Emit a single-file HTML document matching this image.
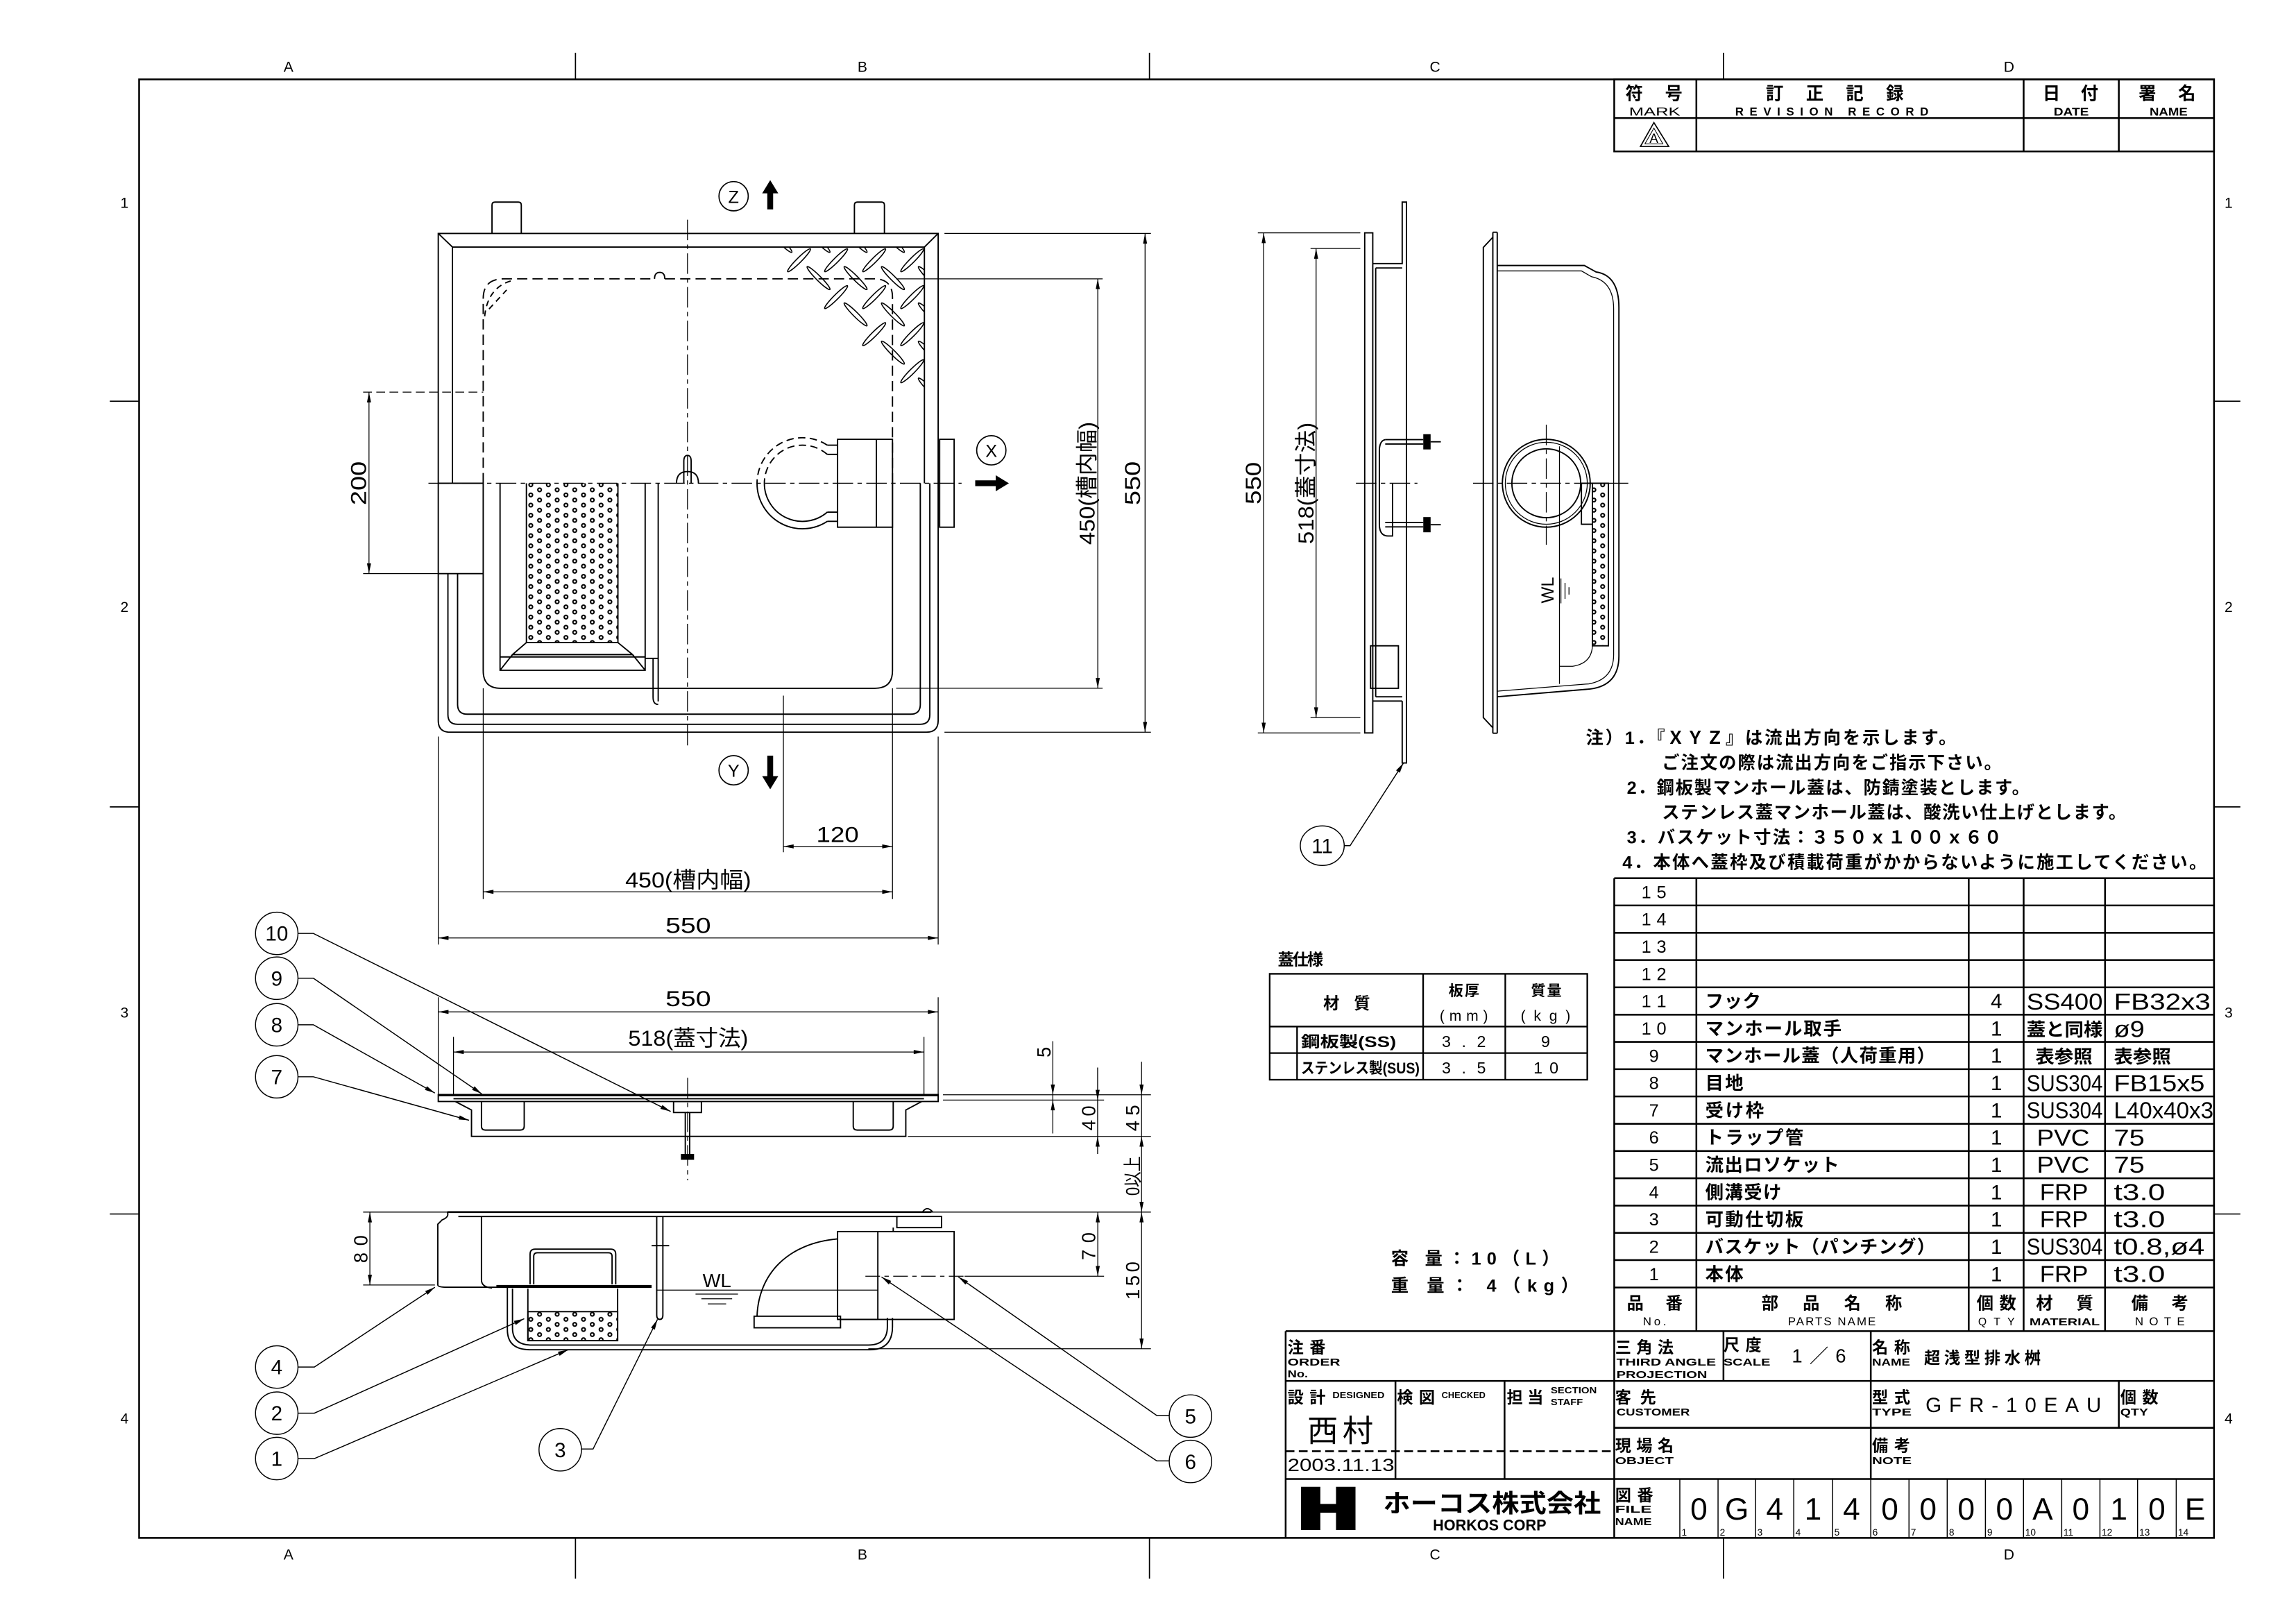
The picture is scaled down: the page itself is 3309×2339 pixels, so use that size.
<!DOCTYPE html>
<html><head><meta charset="utf-8">
<style>
html,body{margin:0;padding:0;background:#fff;}
svg{display:block;}
text{font-family:"Liberation Sans","Noto Sans CJK JP",sans-serif;fill:#000;stroke:none;}
.b{font-weight:bold;}
</style></head><body>
<svg xmlns="http://www.w3.org/2000/svg" width="3309" height="2339" viewBox="0 0 1568 1108.3" preserveAspectRatio="none">
<defs>
<pattern id="perf" patternUnits="userSpaceOnUse" x="359.5" y="329.3" width="12" height="6.95">
<circle cx="3" cy="1.74" r="1.2" fill="none" stroke="#000" stroke-width="1"/>
<circle cx="9" cy="5.21" r="1.2" fill="none" stroke="#000" stroke-width="1"/>
<circle cx="9" cy="-1.74" r="1.2" fill="none" stroke="#000" stroke-width="1"/>
</pattern>
<clipPath id="cp"><rect x="309" y="168.7" width="322.6" height="161.3"/></clipPath>
</defs>
<rect width="1568" height="1108.3" fill="#fff"/>

<!-- ===== FRAME ===== -->
<g fill="none" stroke="#000">
<rect x="95" y="54.2" width="1417" height="996" stroke-width="1.2"/>
<path stroke-width="0.8" d="M393,36V54 M785,36V54 M1177,36V54 M393,1050V1078 M785,1050V1078 M1177,1050V1078 M75,274H95 M75,551H95 M75,829H95 M1512,274H1530 M1512,551H1530 M1512,829H1530"/>
</g>
<g font-size="10" text-anchor="middle">
<text x="197" y="49">A</text><text x="589" y="49">B</text><text x="980" y="49">C</text><text x="1372" y="49">D</text>
<text x="197" y="1065">A</text><text x="589" y="1065">B</text><text x="980" y="1065">C</text><text x="1372" y="1065">D</text>
<text x="85" y="142">1</text><text x="85" y="418">2</text><text x="85" y="695">3</text><text x="85" y="972">4</text>
<text x="1522" y="142">1</text><text x="1522" y="418">2</text><text x="1522" y="695">3</text><text x="1522" y="972">4</text>
</g>

<!-- ===== REVISION TABLE ===== -->
<g fill="none" stroke="#000" stroke-width="1.2">
<rect x="1102.4" y="54.2" width="409.6" height="49.2"/>
<path d="M1102.4,80.6H1512 M1158.5,54.2V103.4 M1382,54.2V103.4 M1447,54.2V103.4"/>
<polygon points="1129.5,83.7 1120.3,100 1139.6,100" stroke-width="0.8"/>
<polygon points="1129.5,87.5 1123.4,98.2 1135.6,98.2" stroke-width="0.5"/>
</g>
<text x="1129.5" y="97.5" font-size="9" text-anchor="middle">A</text>
<g text-anchor="middle">
<text class="b" x="1129.5" y="68" font-size="12" textLength="39" lengthAdjust="spacing">符 号</text>
<text x="1130" y="79" font-size="8" textLength="35" lengthAdjust="spacingAndGlyphs">MARK</text>
<text class="b" x="1253" y="68" font-size="12" textLength="94" lengthAdjust="spacing">訂 正 記 録</text>
<text class="b" x="1251" y="79" font-size="8" textLength="132" lengthAdjust="spacing">REVISION RECORD</text>
<text class="b" x="1414" y="68" font-size="12" textLength="38" lengthAdjust="spacing">日 付</text>
<text class="b" x="1414.5" y="79" font-size="7.5" textLength="24" lengthAdjust="spacingAndGlyphs">DATE</text>
<text class="b" x="1480" y="68" font-size="12" textLength="39" lengthAdjust="spacing">署 名</text>
<text class="b" x="1481" y="79" font-size="7.5" textLength="26" lengthAdjust="spacingAndGlyphs">NAME</text>
</g>

<!-- ===== PLAN VIEW ===== -->
<g fill="none" stroke="#000" stroke-width="0.9">
<path d="M336,159.4V140Q336,138 338,138H354Q356,138 356,140V159.4 M583.5,159.4V140Q583.5,138 585.5,138H602Q604,138 604,140V159.4"/>
<path d="M299.3,159.4H640.7V492Q640.7,500 632.7,500H307.3Q299.3,500 299.3,492Z"/>
<path d="M309,330V168.7H631.3V330 M299.3,159.4L309,168.7 M640.7,159.4L631.3,168.7"/>
<path d="M305.9,391.7V488Q305.9,494.6 312.5,494.6H628.4Q635,494.6 635,488V330"/>
<path d="M312.5,391.7V481Q312.5,487.7 319,487.7H622Q628.5,487.7 628.5,481V330"/>
<path d="M299.3,330H330 M299.3,391.7H330"/>
<path d="M330,330V458Q330,470 342,470H597.5Q609.5,470 609.5,458V330"/>
<path stroke-dasharray="7 3.5" d="M330,330V204Q330,190.4 344,190.4H447 M454,190.4H597Q609.5,190.4 609.5,203V330"/>
<path d="M447,190.4Q447,186 450.6,186Q454,186 454,190.4"/>
<path stroke-dasharray="4 3" d="M331,216Q333,196 350,191.5 M334,211L346,198"/>
<!-- basket -->
<rect x="359.5" y="330" width="62.5" height="108.8" fill="url(#perf)" stroke="none"/>
<path d="M341.5,330V457.7H440.6V330 M359.5,330V438.8H422V330 M341.5,457.7L350,447H432L440.6,457.7 M341.5,448.6H440.6 M350,447L359.5,438.8 M422,438.8L432,447"/>
<!-- partition -->
<path d="M449.5,330V479 M446,449.6V476Q446,481 449.5,481 M440.6,449.6H449.5"/>
<!-- handle -->
<path d="M467,330V315Q467,311 469.5,311Q472,311 472,315V330 M462,330Q462,322 469.5,322Q477,322 477,330"/>
<!-- outlet -->
<path stroke-dasharray="5 3" d="M565,304A31,31 0 0 0 517,330 M565,310.3A26,26 0 0 0 522,330"/>
<path d="M517,330A31,31 0 0 0 565,356 M522,330A26,26 0 0 0 565,349.7 M565,304H572 M565,356H572 M565,310.3H572 M565,349.7H572"/>
<rect x="572" y="300" width="37.5" height="60"/>
<path d="M598.5,300V360"/>
<rect x="641.7" y="300" width="9.9" height="60"/>
</g>
<!-- checker plate -->
<g clip-path="url(#cp)" fill="none" stroke="#000" stroke-width="0.75">
<ellipse cx="545.7" cy="177.7" rx="11" ry="1.6" transform="rotate(-45 545.7 177.7)"/>
<ellipse cx="571" cy="177.7" rx="11" ry="1.6" transform="rotate(-45 571 177.7)"/>
<ellipse cx="597" cy="177.7" rx="11" ry="1.6" transform="rotate(-45 597 177.7)"/>
<ellipse cx="623" cy="177.7" rx="11" ry="1.6" transform="rotate(-45 623 177.7)"/>
<ellipse cx="571" cy="202.9" rx="11" ry="1.6" transform="rotate(-45 571 202.9)"/>
<ellipse cx="597" cy="202.9" rx="11" ry="1.6" transform="rotate(-45 597 202.9)"/>
<ellipse cx="623" cy="202.9" rx="11" ry="1.6" transform="rotate(-45 623 202.9)"/>
<ellipse cx="597" cy="228.2" rx="11" ry="1.6" transform="rotate(-45 597 228.2)"/>
<ellipse cx="623" cy="228.2" rx="11" ry="1.6" transform="rotate(-45 623 228.2)"/>
<ellipse cx="623" cy="253.5" rx="11" ry="1.6" transform="rotate(-45 623 253.5)"/>
<ellipse cx="533" cy="164.5" rx="11" ry="1.6" transform="rotate(45 533 164.5)"/>
<ellipse cx="559" cy="164.5" rx="11" ry="1.6" transform="rotate(45 559 164.5)"/>
<ellipse cx="584.3" cy="164.5" rx="11" ry="1.6" transform="rotate(45 584.3 164.5)"/>
<ellipse cx="609.8" cy="164.5" rx="11" ry="1.6" transform="rotate(45 609.8 164.5)"/>
<ellipse cx="635" cy="164.5" rx="11" ry="1.6" transform="rotate(45 635 164.5)"/>
<ellipse cx="559" cy="189.9" rx="11" ry="1.6" transform="rotate(45 559 189.9)"/>
<ellipse cx="584.3" cy="189.9" rx="11" ry="1.6" transform="rotate(45 584.3 189.9)"/>
<ellipse cx="609.8" cy="189.9" rx="11" ry="1.6" transform="rotate(45 609.8 189.9)"/>
<ellipse cx="635" cy="189.9" rx="11" ry="1.6" transform="rotate(45 635 189.9)"/>
<ellipse cx="584.3" cy="214.7" rx="11" ry="1.6" transform="rotate(45 584.3 214.7)"/>
<ellipse cx="609.8" cy="214.7" rx="11" ry="1.6" transform="rotate(45 609.8 214.7)"/>
<ellipse cx="635" cy="214.7" rx="11" ry="1.6" transform="rotate(45 635 214.7)"/>
<ellipse cx="609.8" cy="240.8" rx="11" ry="1.6" transform="rotate(45 609.8 240.8)"/>
<ellipse cx="635" cy="240.8" rx="11" ry="1.6" transform="rotate(45 635 240.8)"/>
<ellipse cx="635" cy="266" rx="11" ry="1.6" transform="rotate(45 635 266)"/>
</g>
<!-- centerlines -->
<g fill="none" stroke="#000" stroke-width="0.6">
<path stroke-dasharray="14 3 3 3" d="M469.5,150V512 M292.6,330H656.7"/>
</g>
<!-- XYZ -->
<g fill="none" stroke="#000" stroke-width="0.8">
<circle cx="501" cy="134" r="10"/><circle cx="677" cy="307.5" r="10"/><circle cx="501" cy="526" r="10"/>
</g>
<g font-size="12" text-anchor="middle">
<text x="501" y="138.5">Z</text><text x="677" y="312">X</text><text x="501" y="530.5">Y</text>
</g>
<polygon points="526,123 520.5,132 524,132 524,143 528,143 528,132 531.5,132" fill="#000"/>
<polygon points="526,539 520.5,530 524,530 524,516 528,516 528,530 531.5,530" fill="#000"/>
<polygon points="689,330 680,324.5 680,328 666,328 666,332 680,332 680,335.5" fill="#000"/>

<!-- plan dims -->
<g fill="none" stroke="#000" stroke-width="0.6">
<path d="M782,159.4V500 M645,159.4H786 M645,500H786"/>
<path d="M749.7,190.4V470 M612,190.4H753 M612,470H753"/>
<path d="M252,267.8V391.7 M248,391.7H299"/>
<path stroke-dasharray="6 3" d="M248,267.8H330"/>
<path d="M535,578H609.5 M535,475V582 M609.5,470V614"/>
<path d="M330,609H609.5 M330,470V614"/>
<path d="M299.3,640.5H640.7 M299.3,503V645 M640.7,503V645"/>
</g>
<g fill="#000">
<polygon points="782,159.4 780.6,166.4 783.4,166.4"/><polygon points="782,500 780.6,493 783.4,493"/>
<polygon points="749.7,190.4 748.3,197.4 751.1,197.4"/><polygon points="749.7,470 748.3,463 751.1,463"/>
<polygon points="252,267.8 250.6,274.8 253.4,274.8"/><polygon points="252,391.7 250.6,384.7 253.4,384.7"/>
<polygon points="535,578 542,576.6 542,579.4"/><polygon points="609.5,578 602.5,576.6 602.5,579.4"/>
<polygon points="330,609 337,607.6 337,610.4"/><polygon points="609.5,609 602.5,607.6 602.5,610.4"/>
<polygon points="299.3,640.5 306.3,639.1 306.3,641.9"/><polygon points="640.7,640.5 633.7,639.1 633.7,641.9"/>
</g>
<g font-size="15" text-anchor="middle">
<text transform="translate(778.5,330) rotate(-90)" textLength="30" lengthAdjust="spacingAndGlyphs">550</text>
<text transform="translate(747.5,330) rotate(-90)" textLength="84" lengthAdjust="spacingAndGlyphs">450(槽内幅)</text>
<text transform="translate(250,330) rotate(-90)" textLength="30" lengthAdjust="spacingAndGlyphs">200</text>
<text x="572" y="575" textLength="29" lengthAdjust="spacingAndGlyphs">120</text>
<text x="470" y="606" textLength="86" lengthAdjust="spacingAndGlyphs">450(槽内幅)</text>
<text x="470" y="637" textLength="31" lengthAdjust="spacingAndGlyphs">550</text>
</g>

<!-- ===== SIDE VIEW 1 ===== -->
<g fill="none" stroke="#000" stroke-width="0.6">
<path d="M863,159V500.5 M859,159H929 M859,500.5H929"/>
<path d="M898.8,169.7V490 M895,169.7H929 M895,490H929"/>
<path stroke-dasharray="14 3 3 3" d="M926,330H968"/>
</g>
<g fill="#000">
<polygon points="863,159 861.6,166 864.4,166"/><polygon points="863,500.5 861.6,493.5 864.4,493.5"/>
<polygon points="898.8,169.7 897.4,176.7 900.2,176.7"/><polygon points="898.8,490 897.4,483 900.2,483"/>
</g>
<g font-size="15" text-anchor="middle">
<text transform="translate(861,330) rotate(-90)" textLength="29" lengthAdjust="spacingAndGlyphs">550</text>
<text transform="translate(897,330) rotate(-90)" textLength="83" lengthAdjust="spacingAndGlyphs">518(蓋寸法)</text>
</g>
<g fill="none" stroke="#000" stroke-width="0.9">
<rect x="932" y="159" width="5.5" height="341.5"/>
<path d="M937.5,180H957.6V138H960.5V478.7 M939.5,183V475.8 M939.5,183H957.6 M937.5,478.7H957.6 M939.5,475.8H957.6 M957.6,478.7V521H960.5V478.7"/>
<path d="M946,300.2H972 M946,303.2H972 M977,301.7H984 M946,356.8H972 M946,359.8H972 M977,358.3H984"/>
<path d="M946,300.2Q942,301 942,308V358Q942,366 948,366H951V330"/>
<rect x="936" y="441" width="19" height="29"/>
</g>
<rect x="972" y="296.5" width="5" height="10.4" fill="#000"/>
<rect x="972" y="353.1" width="5" height="10.4" fill="#000"/>

<!-- ===== SIDE VIEW 2 ===== -->
<g fill="none" stroke="#000" stroke-width="0.9">
<path d="M1019.5,158.6V500.7 M1022.5,158.6V500.7 M1019.5,158.6H1022.5 M1019.5,500.7H1022.5"/>
<path d="M1019.5,162L1013,169V490L1019.5,497"/>
<path d="M1022.5,181.3H1082L1090,185.7Q1105.6,188 1105.6,210V448Q1105.6,468 1086,470.5L1022.5,475.8"/>
<path stroke-width="0.6" d="M1022.5,185H1080L1087,189Q1102,192 1102,211V447Q1102,464 1085,467L1022.5,472"/>
<circle cx="1056" cy="330" r="30"/>
<circle cx="1056" cy="330" r="28" stroke-width="0.6"/>
<circle cx="1056" cy="330" r="23.5"/>
<path stroke-width="0.6" d="M1065,304.8V467"/>
<rect x="1087.5" y="330" width="10.9" height="111" fill="url(#perf)"/>
<rect x="1080" y="330" width="7.5" height="28"/>
<path stroke-width="0.6" d="M1087.5,441Q1087,453 1074,455H1065"/>
<path stroke-width="0.6" d="M1066,395V412 M1068.8,398V409 M1071.5,401V406"/>
</g>
<g fill="none" stroke="#000" stroke-width="0.6">
<path stroke-dasharray="14 3 3 3" d="M1056,290V372 M1006,330H1112"/>
</g>
<text transform="translate(1061,403) rotate(-90)" font-size="12" text-anchor="middle">WL</text>

<!-- leader 11 -->
<g fill="none" stroke="#000" stroke-width="0.7">
<ellipse cx="903" cy="577.5" rx="15" ry="13.5"/>
<path d="M918,577.5H922L958.5,521"/>
</g>
<polygon points="958.5,521 956,527.7 953.4,526.1" fill="#000"/>
<text x="903" y="582.5" font-size="14" text-anchor="middle">11</text>

<!-- ===== COVER SECTION ===== -->
<g fill="none" stroke="#000" stroke-width="0.6">
<path d="M299.3,691H640.7 M299.3,681V747 M640.7,681V747"/>
<path d="M309.7,718.4H631 M309.7,708V747 M631,708V747"/>
<path d="M644,747.6H786 M644,751.2H754 M620,776H786"/>
<path d="M719,711V774 M749.6,729V788 M779.6,725V921"/>
<path stroke-dasharray="14 3 3 3" d="M469.6,736V806"/>
</g>
<g fill="#000">
<polygon points="299.3,691 306.3,689.6 306.3,692.4"/><polygon points="640.7,691 633.7,689.6 633.7,692.4"/>
<polygon points="309.7,718.4 316.7,717 316.7,719.8"/><polygon points="631,718.4 624,717 624,719.8"/>
<polygon points="719,747.6 717.6,740.6 720.4,740.6"/><polygon points="719,751.2 717.6,758.2 720.4,758.2"/>
<polygon points="749.6,751.2 748.2,744.2 751,744.2"/><polygon points="749.6,776 748.2,783 751,783"/>
<polygon points="779.6,747.6 778.2,740.6 781,740.6"/><polygon points="779.6,776 778.2,783 781,783"/>
<polygon points="779.6,827.7 778.2,820.7 781,820.7"/>
</g>
<g font-size="15" text-anchor="middle">
<text x="470" y="687" textLength="31" lengthAdjust="spacingAndGlyphs">550</text>
<text x="470" y="714" textLength="82" lengthAdjust="spacingAndGlyphs">518(蓋寸法)</text>
</g>
<g font-size="13" text-anchor="middle">
<text transform="translate(717.5,718.5) rotate(-90)">5</text>
<text transform="translate(748,763.5) rotate(-90)" textLength="17" lengthAdjust="spacing">40</text>
<text transform="translate(778,763.5) rotate(-90)" textLength="18" lengthAdjust="spacing">45</text>
<text transform="translate(778,803) rotate(-90)" textLength="27" lengthAdjust="spacingAndGlyphs">0以上</text>
</g>
<g fill="none" stroke="#000" stroke-width="0.9">
<path stroke-width="1.6" d="M299.3,747.8H640.7"/>
<path d="M299.3,747V752.2H640.7V747 M309.7,750.3H631"/>
<path d="M311,752.2L322,758V776H618.6V758L629.5,752.2"/>
<path d="M328.8,752.2V769Q328.8,771.7 331.5,771.7H355.3Q358,771.7 358,769V752.2 M582.7,752.2V769Q582.7,771.7 585.4,771.7H607.3Q610,771.7 610,769V752.2"/>
<rect x="460" y="752.2" width="19" height="7.5"/>
<path d="M468,759.7V789 M471,759.7V789"/>
</g>
<rect x="465" y="788" width="9" height="4" fill="#000"/>

<!-- ===== BODY SECTION ===== -->
<g fill="none" stroke="#000" stroke-width="0.6">
<path d="M248,827.7H786"/>
<path d="M252.6,827.7V877.5 M248,877.5H297"/>
<path d="M749.7,827.7V871.5"/>
<path stroke-dasharray="10 3 3 3" d="M591,871.5H658.7"/>
<path d="M658.7,871.5H754"/>
<path d="M593,921H786"/>
<path d="M448,881H599.5"/>
<path d="M475,883.7H504 M479,886.9H500 M483.4,890.4H495.9"/>
</g>
<g fill="#000">
<polygon points="252.6,827.7 251.2,834.7 254,834.7"/><polygon points="252.6,877.5 251.2,870.5 254,870.5"/>
<polygon points="749.7,827.7 748.3,834.7 751.1,834.7"/><polygon points="749.7,871.5 748.3,864.5 751.1,864.5"/>
<polygon points="779.6,827.7 778.2,834.7 781,834.7"/><polygon points="779.6,921 778.2,914 781,914"/>
</g>
<g font-size="13" text-anchor="middle">
<text transform="translate(251,853) rotate(-90)" textLength="19" lengthAdjust="spacing">80</text>
<text transform="translate(748,851) rotate(-90)" textLength="19" lengthAdjust="spacing">70</text>
<text transform="translate(778,874.5) rotate(-90)" textLength="26" lengthAdjust="spacing">150</text>
</g>
<text x="489.6" y="879" font-size="13" text-anchor="middle">WL</text>
<g fill="none" stroke="#000" stroke-width="0.9">
<path stroke-width="1.2" d="M305.5,827.7H636"/>
<path d="M305.5,827.7Q307,831 302,833L299,836V877.5Q299,879 305,879H340 M328.8,831V874Q328.8,879 336,879.5"/>
<path d="M313,830.7H614"/>
<path d="M346.5,879V908Q346.5,921.7 362,921.7H594Q609.5,921.7 609.5,906V900 M350,880V907Q350,918.5 363,918.5H593Q606,918.5 606,906V900"/>
<rect x="612.5" y="830.7" width="30.5" height="7.6"/>
<path d="M630,827.7Q633,823 637,827.7 M610,838.3V841"/>
<path stroke-width="2" d="M339,878.5H445"/>
<path d="M362,877V856.5Q362,853 365.5,853H417Q420.5,853 420.5,856.5V877 M364.5,877V858Q364.5,855.5 367,855.5H415.5Q418,855.5 418,858V877"/>
<rect x="360.5" y="895.7" width="61.3" height="19.8" fill="url(#perf)"/>
<path d="M360.5,880V915.5H421.8V880"/>
<path d="M448.5,831V898Q448.5,901 450.6,901Q452.7,901 452.7,898V831 M445,850.6H457"/>
<path d="M517,898.8C518,870 538,849 572,846"/>
<rect x="515" y="898.8" width="59" height="7.9"/>
<path d="M574,901H599.5"/>
<rect x="572" y="841" width="79.6" height="60"/>
<path d="M599.5,841V901"/>
</g>

<!-- leaders left -->
<g fill="none" stroke="#000" stroke-width="0.7">
<circle cx="189" cy="637.4" r="14.5"/><circle cx="189" cy="668" r="14.5"/><circle cx="189" cy="699.8" r="14.5"/><circle cx="189" cy="735.3" r="14.5"/>
<circle cx="189" cy="933.5" r="14.5"/><circle cx="189" cy="965" r="14.5"/><circle cx="189" cy="996" r="14.5"/>
<circle cx="382.6" cy="990" r="14.5"/><circle cx="813" cy="967" r="14.5"/><circle cx="813" cy="998" r="14.5"/>
<path d="M203.5,637.4H214L458,759"/>
<path d="M203.5,668H214L329,747"/>
<path d="M203.5,699.8H214L297,746.4"/>
<path d="M203.5,735.3H214L320.3,765"/>
<path d="M203.5,933.5H214.7L297,879"/>
<path d="M203.5,965H214.7L358,900.5"/>
<path d="M203.5,996H214.7L388,921.7"/>
<path d="M397,989.5H405L449,901"/>
<path d="M798.5,966.6H790L654.5,872"/>
<path d="M798.5,997.6H790L602,872"/>
</g>
<g fill="#000">
<polygon points="458,759 451,757.2 452.4,754.6"/>
<polygon points="329,747 322.4,744.2 324.1,741.8"/>
<polygon points="297,746.4 290.2,744.3 291.6,741.7"/>
<polygon points="320.3,765 313.2,764.5 314,761.7"/>
<polygon points="297,879 292,884.2 290.4,881.6"/>
<polygon points="358,900.5 352.2,904.8 351,902"/>
<polygon points="388,921.7 382.2,925.9 381,923.1"/>
<polygon points="449,901 447.2,908 444.6,906.6"/>
<polygon points="654.5,872 661.1,874.8 659.3,877.2"/>
<polygon points="602,872 608.6,874.7 607,877.1"/>
</g>
<g font-size="14" text-anchor="middle">
<text x="189" y="642.4">10</text><text x="189" y="673">9</text><text x="189" y="704.8">8</text><text x="189" y="740.3">7</text>
<text x="189" y="938.5">4</text><text x="189" y="970">2</text><text x="189" y="1001">1</text>
<text x="382.6" y="995">3</text><text x="813" y="972">5</text><text x="813" y="1003">6</text>
</g>

<!-- ===== COVER SPEC TABLE ===== -->
<text class="b" x="872.7" y="659" font-size="11" textLength="31" lengthAdjust="spacing">蓋仕様</text>
<g fill="none" stroke="#000" stroke-width="1.1">
<rect x="867.1" y="665" width="216.9" height="72.3"/>
<path d="M867.1,701H1084 M867.1,719.1H1084 M971.9,665V737.3 M1028,665V737.3 M885.8,701V737.3"/>
</g>
<g text-anchor="middle">
<text class="b" x="919.7" y="689" font-size="11" textLength="32" lengthAdjust="spacing">材 質</text>
<text class="b" x="999.8" y="680" font-size="10" textLength="21" lengthAdjust="spacing">板厚</text>
<text x="999.7" y="697" font-size="10" textLength="33" lengthAdjust="spacing">(mm)</text>
<text class="b" x="1056" y="680" font-size="10" textLength="21" lengthAdjust="spacing">質量</text>
<text x="1055.5" y="697" font-size="10" textLength="34" lengthAdjust="spacing">(kg)</text>
<text x="999.7" y="715" font-size="11" textLength="30" lengthAdjust="spacing">3.2</text>
<text x="1055.5" y="715" font-size="11">9</text>
<text x="999.7" y="733" font-size="11" textLength="30" lengthAdjust="spacing">3.5</text>
<text x="1055.8" y="733" font-size="11" textLength="17" lengthAdjust="spacing">10</text>
</g>
<text class="b" x="888.5" y="715" font-size="10.5" textLength="65" lengthAdjust="spacingAndGlyphs">鋼板製(SS)</text>
<text class="b" x="888.5" y="733" font-size="10.5" textLength="81" lengthAdjust="spacingAndGlyphs">ステンレス製(SUS)</text>
<text class="b" x="950" y="863.5" font-size="12" textLength="115" lengthAdjust="spacing">容 量：10（L）</text>
<text class="b" x="950" y="882" font-size="12" textLength="128" lengthAdjust="spacing">重 量： 4（kg）</text>

<!-- ===== NOTES ===== -->
<g class="b" font-size="12">
<text x="1083" y="508" textLength="253" lengthAdjust="spacing">注）1．『ＸＹＺ』は流出方向を示します。</text>
<text x="1135" y="525" textLength="232" lengthAdjust="spacing">ご注文の際は流出方向をご指示下さい。</text>
<text x="1111" y="542" textLength="275" lengthAdjust="spacing">2．鋼板製マンホール蓋は、防錆塗装とします。</text>
<text x="1135" y="559" textLength="317" lengthAdjust="spacing">ステンレス蓋マンホール蓋は、酸洗い仕上げとします。</text>
<text x="1111" y="576" textLength="256" lengthAdjust="spacing">3．バスケット寸法：３５０ｘ１００ｘ６０</text>
<text x="1108" y="593" textLength="399" lengthAdjust="spacing">4．本体へ蓋枠及び積載荷重がかからないように施工してください。</text>
</g>

<!-- ===== PARTS TABLE ===== -->
<g fill="none" stroke="#000" stroke-width="1.2">
<path d="M1102.4,599.7V909 M1158.5,599.7V909 M1344.5,599.7V909 M1382,599.7V909 M1437.6,599.7V909 M1512,599.7V909"/>
<path d="M1102.4,599.7H1512 M1102.4,618.3H1512 M1102.4,637H1512 M1102.4,655.6H1512 M1102.4,674.2H1512 M1102.4,692.9H1512 M1102.4,711.5H1512 M1102.4,730.1H1512 M1102.4,748.7H1512 M1102.4,767.4H1512 M1102.4,786H1512 M1102.4,804.6H1512 M1102.4,823.3H1512 M1102.4,841.9H1512 M1102.4,860.5H1512 M1102.4,879.2H1512 M878,909H1512"/>
</g>
<g font-size="12" text-anchor="middle">
<text x="1129.5" y="613.3" textLength="17" lengthAdjust="spacing">15</text>
<text x="1129.5" y="631.9" textLength="17" lengthAdjust="spacing">14</text>
<text x="1129.5" y="650.6" textLength="17" lengthAdjust="spacing">13</text>
<text x="1129.5" y="669.2" textLength="17" lengthAdjust="spacing">12</text>
<text x="1129.5" y="687.8" textLength="17" lengthAdjust="spacing">11</text>
<text x="1129.5" y="706.5" textLength="17" lengthAdjust="spacing">10</text>
<text x="1129.5" y="725.1">9</text><text x="1129.5" y="743.7">8</text><text x="1129.5" y="762.4">7</text>
<text x="1129.5" y="781">6</text><text x="1129.5" y="799.6">5</text><text x="1129.5" y="818.3">4</text>
<text x="1129.5" y="836.9">3</text><text x="1129.5" y="855.5">2</text><text x="1129.5" y="874.2">1</text>
</g>
<g font-size="14" text-anchor="middle">
<text x="1363.4" y="688.5">4</text><text x="1363.4" y="707.2">1</text><text x="1363.4" y="725.8">1</text>
<text x="1363.4" y="744.4">1</text><text x="1363.4" y="763.1">1</text><text x="1363.4" y="781.7">1</text>
<text x="1363.4" y="800.3">1</text><text x="1363.4" y="819">1</text><text x="1363.4" y="837.6">1</text>
<text x="1363.4" y="856.2">1</text><text x="1363.4" y="874.9">1</text>
</g>
<g class="b" font-size="12.5">
<text x="1164.6" y="688" textLength="38" lengthAdjust="spacing">フック</text>
<text x="1164.6" y="706.7" textLength="93" lengthAdjust="spacing">マンホール取手</text>
<text x="1164.6" y="725.3" textLength="157" lengthAdjust="spacing">マンホール蓋（人荷重用）</text>
<text x="1164.6" y="743.9" textLength="26" lengthAdjust="spacing">目地</text>
<text x="1164.6" y="762.6" textLength="40" lengthAdjust="spacing">受け枠</text>
<text x="1164.6" y="781.2" textLength="67" lengthAdjust="spacing">トラップ管</text>
<text x="1164.6" y="799.8" textLength="91.5" lengthAdjust="spacing">流出ロソケット</text>
<text x="1164.6" y="818.5" textLength="52" lengthAdjust="spacing">側溝受け</text>
<text x="1164.6" y="837.1" textLength="67" lengthAdjust="spacing">可動仕切板</text>
<text x="1164.6" y="855.7" textLength="157" lengthAdjust="spacing">バスケット（パンチング）</text>
<text x="1164.6" y="874.4" textLength="26" lengthAdjust="spacing">本体</text>
</g>
<g font-size="16">
<text x="1384" y="689.5" textLength="52" lengthAdjust="spacingAndGlyphs">SS400</text>
<text class="b" x="1384" y="707.5" font-size="12.5" textLength="52" lengthAdjust="spacingAndGlyphs">蓋と同様</text>
<text class="b" x="1390" y="726" font-size="12.5" textLength="39" lengthAdjust="spacingAndGlyphs">表参照</text>
<text x="1384" y="745" textLength="52" lengthAdjust="spacingAndGlyphs">SUS304</text>
<text x="1384" y="763.6" textLength="52" lengthAdjust="spacingAndGlyphs">SUS304</text>
<text x="1391" y="782.2" textLength="36" lengthAdjust="spacingAndGlyphs">PVC</text>
<text x="1391" y="800.8" textLength="36" lengthAdjust="spacingAndGlyphs">PVC</text>
<text x="1393" y="819.5" textLength="33" lengthAdjust="spacingAndGlyphs">FRP</text>
<text x="1393" y="838.1" textLength="33" lengthAdjust="spacingAndGlyphs">FRP</text>
<text x="1384" y="856.7" textLength="52" lengthAdjust="spacingAndGlyphs">SUS304</text>
<text x="1393" y="875.4" textLength="33" lengthAdjust="spacingAndGlyphs">FRP</text>
<text x="1443.6" y="689.5" textLength="66" lengthAdjust="spacingAndGlyphs">FB32x3</text>
<text x="1443.6" y="708.1" textLength="21" lengthAdjust="spacingAndGlyphs">ø9</text>
<text class="b" x="1443.6" y="726" font-size="12.5" textLength="39" lengthAdjust="spacingAndGlyphs">表参照</text>
<text x="1443.6" y="745" textLength="62" lengthAdjust="spacingAndGlyphs">FB15x5</text>
<text x="1443.6" y="763.6" textLength="68" lengthAdjust="spacingAndGlyphs">L40x40x3</text>
<text x="1443.6" y="782.2" textLength="21" lengthAdjust="spacingAndGlyphs">75</text>
<text x="1443.6" y="800.8" textLength="21" lengthAdjust="spacingAndGlyphs">75</text>
<text x="1443.6" y="819.5" textLength="35" lengthAdjust="spacingAndGlyphs">t3.0</text>
<text x="1443.6" y="838.1" textLength="35" lengthAdjust="spacingAndGlyphs">t3.0</text>
<text x="1443.6" y="856.7" textLength="62" lengthAdjust="spacingAndGlyphs">t0.8,ø4</text>
<text x="1443.6" y="875.4" textLength="35" lengthAdjust="spacingAndGlyphs">t3.0</text>
</g>
<g text-anchor="middle">
<text class="b" x="1130" y="894" font-size="11.5" textLength="38" lengthAdjust="spacing">品 番</text>
<text x="1130" y="905" font-size="8" textLength="16" lengthAdjust="spacing">No.</text>
<text class="b" x="1251" y="894" font-size="11.5" textLength="96" lengthAdjust="spacing">部 品 名 称</text>
<text x="1251" y="905" font-size="8" textLength="60" lengthAdjust="spacing">PARTS NAME</text>
<text class="b" x="1363.4" y="894" font-size="11.5" textLength="27" lengthAdjust="spacing">個数</text>
<text x="1363.4" y="905" font-size="7.5" textLength="25" lengthAdjust="spacing">QTY</text>
<text class="b" x="1410" y="894" font-size="11.5" textLength="39" lengthAdjust="spacing">材 質</text>
<text class="b" x="1410" y="905" font-size="7" textLength="48" lengthAdjust="spacingAndGlyphs">MATERIAL</text>
<text class="b" x="1475" y="894" font-size="11.5" textLength="39" lengthAdjust="spacing">備 考</text>
<text x="1475" y="905" font-size="8" textLength="34" lengthAdjust="spacing">NOTE</text>
</g>

<!-- ===== TITLE BLOCK ===== -->
<g fill="none" stroke="#000" stroke-width="1.2">
<path d="M878,909V1050 M878,943H1512 M1102.4,975H1512 M878,1010H1512 M1102.4,909V1050 M1177,909V943 M1277.6,909V1010 M1447,943V975 M953,943V1010 M1027.5,943V1010"/>
<path stroke-dasharray="6 3" d="M878,991H1102.4"/>
<path stroke-width="0.7" d="M1147.2,1010V1050 M1173.3,1010V1050 M1198.9,1010V1050 M1225,1010V1050 M1251.5,1010V1050 M1277.6,1010V1050 M1303.7,1010V1050 M1329.8,1010V1050 M1355.9,1010V1050 M1381.9,1010V1050 M1408,1010V1050 M1434.1,1010V1050 M1459.8,1010V1050 M1486.2,1010V1050"/>
</g>
<g class="b" font-size="11">
<text x="879.3" y="924" textLength="26" lengthAdjust="spacing">注番</text>
<text x="1103" y="924" textLength="40" lengthAdjust="spacing">三角法</text>
<text x="1177" y="922.4" textLength="26" lengthAdjust="spacing">尺度</text>
<text x="1278.5" y="924" textLength="26" lengthAdjust="spacing">名称</text>
<text x="879.3" y="958" textLength="26" lengthAdjust="spacing">設計</text>
<text x="954" y="958" textLength="26" lengthAdjust="spacing">検図</text>
<text x="1029" y="958" textLength="25" lengthAdjust="spacing">担当</text>
<text x="1103" y="958" textLength="28" lengthAdjust="spacing">客先</text>
<text x="1278.5" y="958" textLength="26" lengthAdjust="spacing">型式</text>
<text x="1448" y="958" textLength="26" lengthAdjust="spacing">個数</text>
<text x="1103" y="991" textLength="40" lengthAdjust="spacing">現場名</text>
<text x="1278.5" y="991" textLength="26" lengthAdjust="spacing">備考</text>
<text x="1103" y="1025" textLength="26" lengthAdjust="spacing">図番</text>
</g>
<g class="b" font-size="7">
<text x="879.3" y="932.6" textLength="36" lengthAdjust="spacingAndGlyphs">ORDER</text>
<text x="879.3" y="940.6" textLength="14" lengthAdjust="spacingAndGlyphs">No.</text>
<text x="1103.9" y="932.6" textLength="68" lengthAdjust="spacingAndGlyphs">THIRD ANGLE</text>
<text x="1103.9" y="941" textLength="62" lengthAdjust="spacingAndGlyphs">PROJECTION</text>
<text x="1177" y="932.6" textLength="32" lengthAdjust="spacingAndGlyphs">SCALE</text>
<text x="1278.5" y="932.6" textLength="26" lengthAdjust="spacingAndGlyphs">NAME</text>
<text x="1104" y="966.6" textLength="50" lengthAdjust="spacingAndGlyphs">CUSTOMER</text>
<text x="1278.5" y="966.6" textLength="27" lengthAdjust="spacingAndGlyphs">TYPE</text>
<text x="1448" y="966.6" textLength="19" lengthAdjust="spacingAndGlyphs">QTY</text>
<text x="1103" y="999.8" textLength="40" lengthAdjust="spacingAndGlyphs">OBJECT</text>
<text x="1278.5" y="999.8" textLength="27" lengthAdjust="spacingAndGlyphs">NOTE</text>
<text x="1103" y="1033" textLength="25" lengthAdjust="spacingAndGlyphs">FILE</text>
<text x="1103" y="1041.6" textLength="25" lengthAdjust="spacingAndGlyphs">NAME</text>
</g>
<g class="b" font-size="6">
<text x="910" y="954.8" textLength="35.5" lengthAdjust="spacingAndGlyphs">DESIGNED</text>
<text x="984.5" y="954.8" textLength="30" lengthAdjust="spacingAndGlyphs">CHECKED</text>
<text x="1059" y="951.5" textLength="31.5" lengthAdjust="spacingAndGlyphs">SECTION</text>
<text x="1059" y="959.6" textLength="22" lengthAdjust="spacingAndGlyphs">STAFF</text>
</g>
<text x="1223.7" y="930.3" font-size="13" textLength="37" lengthAdjust="spacing">1／6</text>
<text class="b" x="1314" y="931" font-size="11" textLength="79.6" lengthAdjust="spacing">超浅型排水桝</text>
<text x="1315" y="964.3" font-size="14" textLength="120" lengthAdjust="spacing">GFR-10EAU</text>
<text x="915.3" y="984.5" font-size="21" text-anchor="middle" textLength="45" lengthAdjust="spacing">西村</text>
<text x="879.3" y="1004.6" font-size="12" textLength="73" lengthAdjust="spacingAndGlyphs">2003.11.13</text>
<!-- file number digits -->
<g font-size="21" text-anchor="middle">
<text x="1160.2" y="1037.7">0</text><text x="1186.1" y="1037.7">G</text><text x="1212" y="1037.7">4</text>
<text x="1238.2" y="1037.7">1</text><text x="1264.5" y="1037.7">4</text><text x="1290.6" y="1037.7">0</text>
<text x="1316.7" y="1037.7">0</text><text x="1342.8" y="1037.7">0</text><text x="1368.9" y="1037.7">0</text>
<text x="1395" y="1037.7">A</text><text x="1421" y="1037.7">0</text><text x="1447" y="1037.7">1</text>
<text x="1473" y="1037.7">0</text><text x="1499.1" y="1037.7">E</text>
</g>
<g font-size="6.5">
<text x="1148.4" y="1048.5">1</text><text x="1174.5" y="1048.5">2</text><text x="1200.1" y="1048.5">3</text>
<text x="1226.2" y="1048.5">4</text><text x="1252.7" y="1048.5">5</text><text x="1278.8" y="1048.5">6</text>
<text x="1304.9" y="1048.5">7</text><text x="1331" y="1048.5">8</text><text x="1357.1" y="1048.5">9</text>
<text x="1383.1" y="1048.5">10</text><text x="1409.2" y="1048.5">11</text><text x="1435.3" y="1048.5">12</text>
<text x="1461" y="1048.5">13</text><text x="1487.4" y="1048.5">14</text>
</g>
<!-- logo -->
<rect x="888.5" y="1015.3" width="13.2" height="29.5" fill="#000"/>
<rect x="912.4" y="1015.3" width="13.3" height="29.5" fill="#000"/>
<rect x="901" y="1027" width="12" height="6" fill="#000"/>
<text class="b" x="944.6" y="1032.5" font-size="17" textLength="148.7" lengthAdjust="spacingAndGlyphs">ホーコス株式会社</text>
<text class="b" x="978.6" y="1045" font-size="10.5" textLength="77.4" lengthAdjust="spacingAndGlyphs">HORKOS CORP</text>
</svg>
</body></html>
